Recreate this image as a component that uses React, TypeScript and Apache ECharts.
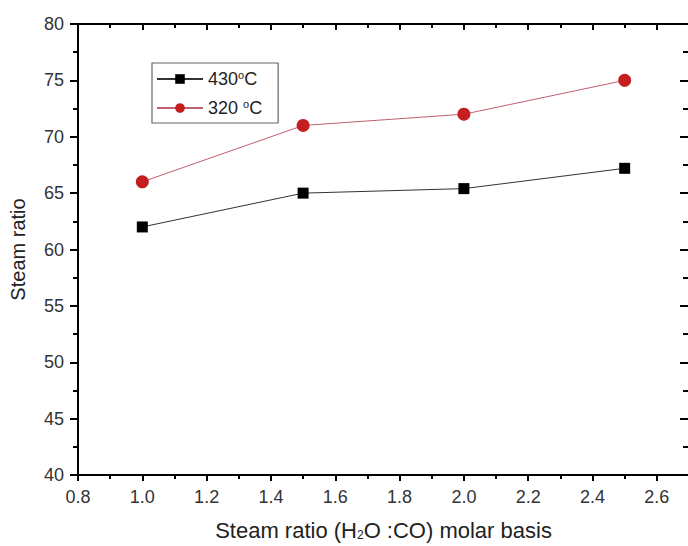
import React, { useEffect, useRef } from "react";
import * as echarts from "echarts";

const xValues = [1.0, 1.5, 2.0, 2.5];
const series430 = [62.0, 65.0, 65.4, 67.2];
const series320 = [66.0, 71.0, 72.0, 75.0];
const seriesNames = ["430", "320"];

export default function App() {
  const ref = useRef<HTMLDivElement>(null);
  useEffect(() => {
    if (!ref.current) return;
    document.body.style.margin = "0";
    const chart = echarts.init(ref.current, undefined, { renderer: "svg" });
    const font = "Liberation Sans, Arial, sans-serif";
    chart.setOption({
      animation: false,
      textStyle: { fontFamily: font },
      grid: { left: 78, top: 24, right: 11, bottom: 71, outerBoundsMode: "none", containLabel: false },
      legend: {
        left: 152,
        top: 63,
        orient: "vertical",
        itemWidth: 46,
        itemHeight: 12,
        itemGap: 10,
        padding: [6, 16, 6, 4],
        borderColor: "#666",
        borderWidth: 1.2,
        data: seriesNames,
        formatter: (n: string) => (n === "430" ? "430{s|o}C" : "320 {s|o}C"),
        textStyle: {
          fontSize: 18,
          color: "#222",
          fontFamily: font,
          rich: { s: { fontSize: 11, verticalAlign: "top", padding: [0, 0, 9, 0], color: "#222" } },
        },
      },
      xAxis: [
        {
          type: "value",
          min: 0.8,
          max: 2.7,
          interval: 0.2,
          position: "bottom",
          name: "Steam ratio (H{sub|2}O :CO) molar basis",
          nameLocation: "middle",
          nameGap: 44,
          nameTextStyle: {
            fontSize: 22,
            color: "#222",
            fontFamily: font,
            rich: { sub: { fontSize: 12, verticalAlign: "bottom", padding: [9, 0, 0, 0], color: "#222" } },
          },
          splitLine: { show: false },
          axisLine: { lineStyle: { color: "#000", width: 2 } },
          axisTick: { length: 6, lineStyle: { width: 2, color: "#000" } },
          minorTick: { show: true, splitNumber: 2, length: 4, lineStyle: { width: 2, color: "#000" } },
          axisLabel: {
            fontSize: 18,
            color: "#333",
            margin: 13,
            formatter: (v: number) => (v > 2.65 ? "" : v.toFixed(1)),
          },
        },
        {
          type: "value",
          min: 0.8,
          max: 2.7,
          interval: 0.2,
          position: "top",
          splitLine: { show: false },
          axisLine: { lineStyle: { color: "#000", width: 2 } },
          axisTick: { inside: true, length: 6, lineStyle: { width: 2, color: "#000" } },
          minorTick: { show: true, splitNumber: 2, length: 4, lineStyle: { width: 2, color: "#000" } },
          axisLabel: { show: false },
        },
      ],
      yAxis: [
        {
          type: "value",
          min: 40,
          max: 80,
          interval: 5,
          name: "Steam ratio",
          nameLocation: "middle",
          nameGap: 50,
          nameTextStyle: { fontSize: 20, color: "#222", fontFamily: font },
          splitLine: { show: false },
          axisLine: { show: true, lineStyle: { color: "#000", width: 2 } },
          axisTick: { show: true, length: 8, lineStyle: { width: 2, color: "#000" } },
          minorTick: { show: true, splitNumber: 2, length: 5, lineStyle: { width: 2, color: "#000" } },
          axisLabel: { fontSize: 18, color: "#333", margin: 14 },
        },
        {
          type: "value",
          min: 40,
          max: 80,
          interval: 5,
          position: "right",
          splitLine: { show: false },
          axisLine: { show: true, lineStyle: { color: "#000", width: 2 } },
          axisTick: { show: true, inside: true, length: 9, lineStyle: { width: 2, color: "#000" } },
          minorTick: { show: true, splitNumber: 2, length: 6, lineStyle: { width: 2, color: "#000" } },
          axisLabel: { show: false },
        },
      ],
      series: [
        {
          name: "430",
          type: "line",
          data: xValues.map((x, i) => [x, series430[i]]),
          symbol: "rect",
          symbolSize: 11,
          lineStyle: { color: "#333", width: 1 },
          itemStyle: { color: "#000" },
        },
        {
          name: "320",
          type: "line",
          data: xValues.map((x, i) => [x, series320[i]]),
          symbol: "circle",
          symbolSize: 13,
          lineStyle: { color: "#c06070", width: 1 },
          itemStyle: { color: "#c41e1e" },
        },
      ],
    });
    return () => chart.dispose();
  }, []);
  return (
    <div style={{ width: 688, height: 546, overflow: "hidden" }}>
      <div ref={ref} style={{ width: 700, height: 546 }} />
    </div>
  );
}
